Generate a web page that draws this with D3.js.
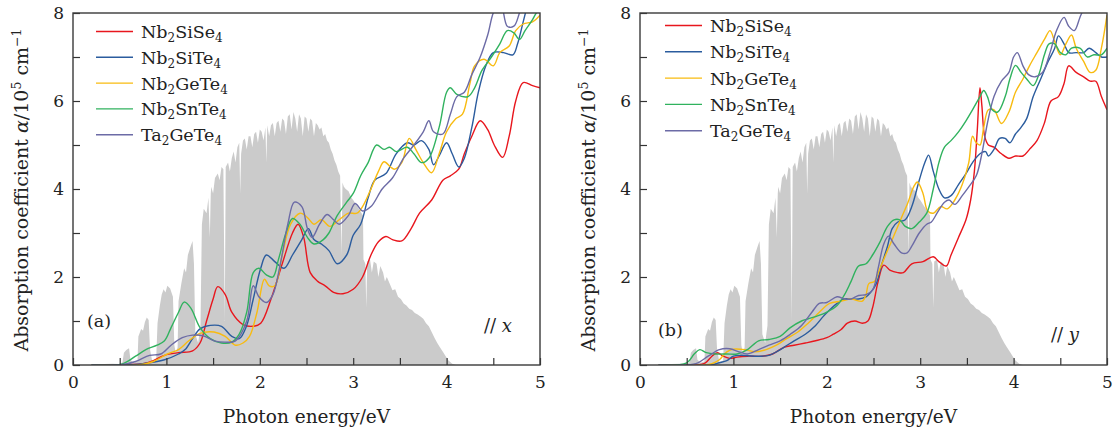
<!DOCTYPE html>
<html>
<head>
<meta charset="utf-8">
<script src="https://cdn.jsdelivr.net/npm/d3@7"></script>
<style>
  body { margin: 0; background: #fff; }
  svg { display: block; }
  text { font-family: "DejaVu Serif", serif; fill: #222; }
  .axis line { stroke: #333; stroke-width: 1.2; }
  .axis text { font-size: 17px; }
</style>
</head>
<body>
<svg width="1115" height="433"></svg>
<script>
// series names + colours (same order in both panels)
const names = [["Nb", "2", "SiSe", "4"], ["Nb", "2", "SiTe", "4"], ["Nb", "2", "GeTe", "4"], ["Nb", "2", "SnTe", "4"], ["Ta", "2", "GeTe", "4"]];
const colors = ["#e8161d", "#2b5c9e", "#f8bb10", "#30b25e", "#6c6ba6"];

const xTicks = [0, 0.5, 1, 1.5, 2, 2.5, 3, 3.5, 4, 4.5, 5];
const yTicks = [0, 1, 2, 3, 4, 5, 6, 7, 8];

// AM1.5 solar spectrum, arbitrary units (grey background)
const solar = [[0.28,0],[0.33,0.02],[0.42,0.03],[0.5,0.02],[0.53,0.06],[0.545,0.28],[0.57,0.34],[0.6,0.38],[0.615,0.12],[0.65,0.05],[0.69,0.08],[0.70,0.65],[0.73,0.82],[0.75,0.78],[0.77,0.98],[0.79,1.08],[0.81,1.02],[0.825,0.35],[0.85,0.06],[0.89,0.1],[0.905,0.95],[0.93,1.35],[0.95,1.6],[0.97,1.72],[0.99,1.65],[1.01,1.8],[1.04,1.74],[1.07,1.55],[1.085,0.45],[1.1,0.28],[1.12,0.4],[1.13,1.45],[1.16,1.85],[1.19,2.2],[1.21,2.1],[1.23,2.5],[1.26,2.7],[1.28,2.82],[1.295,2.3],[1.31,0.7],[1.34,0.5],[1.365,0.9],[1.38,3.2],[1.4,3.55],[1.43,3.45],[1.45,3.8],[1.465,2.9],[1.475,3.9],[1.48,4.05],[1.5,3.9],[1.52,4.25],[1.55,4.35],[1.57,4.2],[1.59,4.5],[1.61,4.45],[1.625,1.0],[1.635,4.5],[1.66,4.6],[1.68,4.4],[1.7,4.7],[1.72,4.85],[1.74,4.6],[1.76,4.95],[1.78,5.05],[1.79,3.9],[1.8,4.8],[1.82,5.1],[1.84,5.15],[1.86,4.9],[1.88,5.2],[1.9,5.2],[1.92,4.95],[1.94,5.25],[1.96,5.3],[1.98,5.05],[2.0,5.35],[2.02,5.3],[2.04,5.1],[2.06,5.4],[2.07,4.6],[2.08,5.45],[2.1,5.2],[2.12,5.45],[2.14,5.5],[2.16,5.2],[2.18,5.5],[2.2,5.55],[2.22,5.3],[2.24,5.6],[2.26,5.55],[2.28,5.25],[2.3,5.65],[2.32,5.7],[2.34,5.35],[2.36,5.75],[2.38,5.6],[2.4,5.3],[2.42,5.7],[2.44,5.6],[2.46,5.2],[2.48,5.65],[2.5,5.6],[2.52,5.3],[2.54,5.6],[2.56,5.55],[2.58,5.2],[2.6,5.5],[2.62,5.45],[2.64,5.35],[2.66,5.4],[2.68,5.2],[2.7,5.25],[2.72,5.1],[2.74,5.05],[2.76,4.9],[2.78,4.8],[2.8,4.65],[2.82,4.55],[2.84,4.4],[2.86,4.3],[2.875,2.5],[2.885,4.15],[2.9,4.05],[2.92,4.0],[2.95,3.95],[2.98,3.8],[3.0,3.75],[3.03,3.65],[3.06,3.55],[3.09,3.45],[3.105,3.4],[3.11,2.4],[3.13,2.3],[3.14,1.3],[3.15,2.35],[3.18,2.4],[3.2,2.1],[3.22,2.35],[3.25,2.3],[3.27,2.0],[3.29,2.25],[3.32,2.1],[3.34,1.9],[3.36,2.0],[3.39,1.85],[3.42,1.7],[3.45,1.72],[3.48,1.55],[3.51,1.5],[3.54,1.4],[3.57,1.35],[3.6,1.28],[3.63,1.25],[3.66,1.18],[3.69,1.15],[3.72,1.1],[3.75,1.05],[3.78,0.95],[3.81,0.88],[3.84,0.75],[3.87,0.62],[3.9,0.5],[3.93,0.4],[3.96,0.3],[3.99,0.2],[4.02,0.1],[4.06,0.03],[4.1,0]];

// (a) // x
const aSiSe4 = [[0.2,0],[0.5,0],[0.6,0.01],[0.75,0.03],[0.86,0.1],[0.98,0.22],[1.13,0.28],[1.28,0.32],[1.36,0.5],[1.43,1.0],[1.5,1.5],[1.55,1.78],[1.63,1.6],[1.7,1.2],[1.82,0.92],[1.93,0.88],[2.01,0.95],[2.12,1.5],[2.24,2.3],[2.35,3.0],[2.41,3.2],[2.47,2.9],[2.54,2.1],[2.62,1.9],[2.7,1.8],[2.79,1.65],[2.89,1.62],[3.0,1.72],[3.1,2.0],[3.19,2.5],[3.27,2.8],[3.35,2.92],[3.42,2.85],[3.52,2.82],[3.62,3.1],[3.71,3.45],[3.84,3.75],[3.96,4.2],[4.04,4.3],[4.13,4.45],[4.19,4.8],[4.27,5.2],[4.36,5.55],[4.44,5.35],[4.51,5.0],[4.6,4.72],[4.67,5.2],[4.74,6.0],[4.82,6.42],[4.92,6.35],[5.0,6.3]];
const aSiTe4 = [[0.2,0],[0.6,0],[0.82,0.05],[0.98,0.12],[1.13,0.25],[1.2,0.35],[1.28,0.6],[1.36,0.82],[1.47,0.9],[1.59,0.88],[1.7,0.65],[1.78,0.6],[1.86,0.9],[1.93,1.5],[2.01,2.2],[2.07,2.5],[2.16,2.35],[2.26,2.2],[2.35,2.5],[2.45,2.85],[2.52,3.1],[2.58,2.85],[2.66,2.75],[2.74,2.6],[2.83,2.3],[2.93,2.5],[3.0,2.95],[3.08,3.2],[3.16,3.8],[3.23,4.2],[3.35,4.35],[3.46,4.8],[3.58,5.05],[3.65,5.0],[3.73,5.1],[3.81,4.9],[3.86,4.55],[3.92,4.75],[4.0,5.05],[4.06,4.8],[4.13,4.5],[4.19,4.7],[4.27,5.4],[4.34,6.2],[4.42,6.8],[4.5,7.1],[4.61,7.1],[4.71,7.05],[4.76,7.3],[4.82,7.8],[4.88,8.3]];
const aGeTe4 = [[0.2,0],[0.7,0],[0.86,0.08],[1.01,0.25],[1.13,0.35],[1.24,0.55],[1.36,0.72],[1.51,0.75],[1.63,0.65],[1.74,0.45],[1.82,0.5],[1.89,0.65],[1.97,1.2],[2.05,1.95],[2.1,1.8],[2.16,1.8],[2.24,2.5],[2.33,3.2],[2.43,3.45],[2.51,3.35],[2.58,3.2],[2.66,3.3],[2.75,3.15],[2.85,3.3],[2.95,3.45],[3.04,3.45],[3.1,3.6],[3.19,4.0],[3.27,4.4],[3.33,4.62],[3.4,4.5],[3.44,4.45],[3.52,4.6],[3.6,5.15],[3.67,4.9],[3.75,4.6],[3.84,4.37],[3.92,4.8],[4.0,5.3],[4.1,5.6],[4.17,5.7],[4.25,6.4],[4.3,6.8],[4.4,6.95],[4.5,6.8],[4.57,7.1],[4.67,7.25],[4.74,7.6],[4.82,7.75],[4.92,7.8],[5.0,7.95]];
const aSnTe4 = [[0.2,0],[0.52,0.02],[0.67,0.2],[0.78,0.35],[0.9,0.45],[0.98,0.55],[1.05,0.85],[1.13,1.2],[1.19,1.43],[1.26,1.3],[1.36,0.85],[1.47,0.6],[1.59,0.5],[1.7,0.52],[1.78,0.7],[1.86,1.2],[1.93,2.1],[1.99,2.2],[2.07,2.05],[2.14,2.0],[2.2,2.4],[2.28,3.0],[2.35,3.33],[2.43,3.2],[2.51,2.9],[2.58,2.75],[2.68,2.85],[2.74,3.0],[2.83,3.4],[2.93,3.7],[3.0,3.9],[3.08,4.3],[3.16,4.6],[3.25,5.0],[3.33,4.9],[3.39,4.95],[3.46,4.85],[3.58,4.95],[3.65,4.8],[3.73,4.6],[3.81,4.7],[3.92,5.4],[4.0,6.2],[4.04,6.3],[4.11,6.15],[4.23,6.1],[4.3,6.3],[4.38,6.7],[4.48,7.0],[4.57,7.3],[4.65,7.6],[4.72,7.55],[4.78,7.4],[4.84,7.6],[4.92,7.85],[4.96,8.0],[5.0,8.1]];
const aTaGeTe4 = [[0.2,0],[0.5,0],[0.67,0.08],[0.82,0.22],[0.94,0.25],[1.05,0.45],[1.17,0.62],[1.28,0.68],[1.4,0.66],[1.51,0.55],[1.63,0.52],[1.74,0.55],[1.86,1.0],[1.93,1.8],[1.99,1.55],[2.07,1.42],[2.14,1.6],[2.22,2.3],[2.3,3.2],[2.37,3.7],[2.45,3.6],[2.51,3.1],[2.56,2.9],[2.64,3.2],[2.72,3.42],[2.79,3.3],[2.85,3.2],[2.95,3.4],[3.02,3.67],[3.1,3.5],[3.19,3.6],[3.31,4.0],[3.42,4.25],[3.54,4.7],[3.65,5.0],[3.75,5.3],[3.81,5.55],[3.86,5.3],[3.96,5.25],[4.04,5.7],[4.11,6.1],[4.19,6.2],[4.27,6.6],[4.36,7.0],[4.44,7.5],[4.51,8.05],[4.58,8.2],[4.65,7.7],[4.72,7.7],[4.78,8.0],[4.84,8.4]];

// (b) // y
const bSiSe4 = [[0.2,0],[0.6,0],[0.7,0.05],[0.77,0.2],[0.83,0.28],[0.89,0.2],[0.96,0.15],[1.04,0.18],[1.15,0.2],[1.31,0.2],[1.42,0.25],[1.54,0.4],[1.65,0.45],[1.77,0.5],[1.88,0.55],[2.0,0.62],[2.07,0.7],[2.15,0.8],[2.22,0.95],[2.3,1.0],[2.38,0.95],[2.44,1.0],[2.49,1.3],[2.55,1.9],[2.61,2.27],[2.68,2.15],[2.76,2.1],[2.82,2.1],[2.91,2.3],[3.03,2.35],[3.14,2.46],[3.2,2.35],[3.28,2.25],[3.33,2.5],[3.41,2.9],[3.49,3.3],[3.54,3.75],[3.58,4.4],[3.61,5.3],[3.64,6.3],[3.66,5.9],[3.69,5.2],[3.73,5.0],[3.79,4.95],[3.87,4.8],[3.95,4.7],[4.02,4.75],[4.1,4.75],[4.17,4.9],[4.25,5.1],[4.33,5.5],[4.4,6.0],[4.48,6.1],[4.54,6.4],[4.59,6.8],[4.67,6.65],[4.75,6.55],[4.82,6.45],[4.88,6.45],[4.94,6.1],[5.0,5.8]];
const bSiTe4 = [[0.2,0],[0.75,0],[0.85,0.05],[0.93,0.1],[1.0,0.2],[1.08,0.22],[1.23,0.2],[1.38,0.22],[1.46,0.3],[1.54,0.4],[1.65,0.55],[1.77,0.7],[1.88,0.9],[1.96,1.1],[2.03,1.25],[2.11,1.4],[2.19,1.5],[2.26,1.5],[2.34,1.5],[2.42,1.55],[2.47,1.65],[2.53,1.85],[2.59,2.3],[2.65,2.7],[2.7,3.1],[2.76,3.25],[2.84,3.3],[2.91,3.6],[2.99,4.2],[3.05,4.6],[3.09,4.77],[3.14,4.4],[3.2,4.0],[3.26,3.8],[3.33,3.85],[3.41,4.1],[3.49,4.35],[3.56,4.6],[3.64,4.8],[3.7,4.85],[3.73,4.75],[3.79,4.9],[3.85,5.15],[3.91,5.15],[3.96,5.05],[4.02,5.25],[4.08,5.4],[4.14,5.6],[4.21,6.1],[4.29,6.5],[4.37,6.9],[4.44,7.2],[4.48,7.48],[4.54,7.3],[4.59,7.1],[4.67,7.1],[4.75,7.1],[4.81,7.2],[4.88,7.1],[4.94,7.0],[5.0,7.0]];
const bGeTe4 = [[0.2,0],[0.7,0],[0.77,0.03],[0.85,0.12],[0.93,0.3],[1.0,0.36],[1.12,0.35],[1.23,0.3],[1.35,0.35],[1.46,0.45],[1.57,0.6],[1.69,0.75],[1.8,0.95],[1.92,1.2],[2.03,1.4],[2.15,1.45],[2.26,1.5],[2.38,1.45],[2.42,1.6],[2.45,1.85],[2.51,1.9],[2.57,2.2],[2.65,2.6],[2.72,2.95],[2.8,3.35],[2.87,3.7],[2.93,4.05],[2.97,4.16],[3.03,3.9],[3.08,3.5],[3.14,3.45],[3.22,3.6],[3.29,3.55],[3.37,3.75],[3.45,4.1],[3.52,4.6],[3.56,5.2],[3.6,5.05],[3.64,5.0],[3.68,5.4],[3.73,5.8],[3.79,5.8],[3.87,5.49],[3.95,5.75],[4.02,6.2],[4.1,6.5],[4.17,6.8],[4.25,7.1],[4.33,7.4],[4.39,7.6],[4.44,7.35],[4.5,7.05],[4.56,7.3],[4.62,7.5],[4.67,7.2],[4.75,6.9],[4.82,6.65],[4.88,6.7],[4.94,7.2],[5.0,7.95]];
const bSnTe4 = [[0.2,0],[0.5,0.05],[0.58,0.25],[0.64,0.35],[0.71,0.28],[0.81,0.25],[0.93,0.25],[1.04,0.25],[1.15,0.35],[1.27,0.55],[1.38,0.58],[1.5,0.65],[1.61,0.85],[1.73,1.0],[1.8,1.05],[1.88,1.1],[2.0,1.2],[2.11,1.35],[2.19,1.6],[2.26,1.9],[2.34,2.25],[2.42,2.3],[2.49,2.5],[2.57,2.8],[2.65,3.15],[2.72,3.3],[2.78,3.3],[2.84,3.15],[2.91,3.1],[2.99,3.25],[3.07,3.45],[3.14,4.0],[3.2,4.6],[3.26,4.95],[3.33,5.1],[3.41,5.3],[3.49,5.55],[3.56,5.8],[3.64,6.1],[3.68,6.24],[3.72,6.1],[3.77,5.8],[3.83,5.75],[3.91,6.1],[3.96,6.5],[4.02,6.81],[4.08,6.65],[4.14,6.5],[4.21,6.35],[4.27,6.6],[4.33,7.05],[4.38,7.3],[4.44,7.3],[4.5,7.1],[4.56,7.05],[4.62,7.2],[4.71,7.2],[4.79,7.0],[4.86,7.05],[4.94,7.05],[5.0,7.2]];
const bTaGeTe4 = [[0.2,0],[0.5,0],[0.62,0.05],[0.73,0.2],[0.85,0.35],[0.96,0.37],[1.06,0.3],[1.15,0.25],[1.27,0.35],[1.38,0.45],[1.5,0.55],[1.61,0.7],[1.73,0.9],[1.84,1.2],[1.92,1.4],[2.0,1.42],[2.11,1.55],[2.19,1.5],[2.26,1.5],[2.34,1.58],[2.42,1.6],[2.49,1.7],[2.55,2.2],[2.61,2.75],[2.66,2.93],[2.72,2.75],[2.8,2.55],[2.86,2.55],[2.91,2.7],[2.99,3.0],[3.07,3.2],[3.12,3.25],[3.18,3.45],[3.26,3.7],[3.31,3.75],[3.37,3.65],[3.45,3.85],[3.52,4.05],[3.6,4.3],[3.66,4.8],[3.72,5.5],[3.79,6.1],[3.87,6.45],[3.95,6.65],[4.0,7.0],[4.04,7.1],[4.1,6.8],[4.16,6.6],[4.23,6.55],[4.31,6.65],[4.39,7.1],[4.46,7.6],[4.54,7.9],[4.59,7.7],[4.65,7.6],[4.71,7.9],[4.75,8.1],[4.8,8.4]];

let svg = d3.select('svg');
let plotTop = 13, plotBottom = 365;

let panels = [
  {id: 'a', left: 73, right: 540, series: [aSiSe4, aSiTe4, aGeTe4, aSnTe4, aTaGeTe4],
   tag: '(a)', dir: 'x', legX: 96, legY: 31.5, legStep: 25.8, tagX: 87, tagY: 327, dirX: 484},
  {id: 'b', left: 640, right: 1107, series: [bSiSe4, bSiTe4, bGeTe4, bSnTe4, bTaGeTe4],
   tag: '(b)', dir: 'y', legX: 665, legY: 25.5, legStep: 26.3, tagX: 658, tagY: 336, dirX: 1051}
];

panels.forEach(p => {
  let x = d3.scaleLinear().domain([0, 5]).range([p.left, p.right]);
  let y = d3.scaleLinear().domain([0, 8]).range([plotBottom, plotTop]);

  svg.append('clipPath').attr('id', 'clip-' + p.id)
    .append('rect').attr('x', p.left).attr('y', plotTop)
    .attr('width', p.right - p.left).attr('height', plotBottom - plotTop);

  let g = svg.append('g').attr('clip-path', `url(#clip-${p.id})`);

  // grey solar spectrum
  let area = d3.area().x(d => x(d[0])).y0(y(0)).y1(d => y(d[1]));
  g.append('path').datum(solar)
    .attr('d', area).attr('fill', '#cbcbcb');

  let line = d3.line()
    .x(d => x(d[0]))
    .y(d => y(d[1]))
    .curve(d3.curveCatmullRom.alpha(0.5));

  p.series.forEach((s, i) => {
    g.append('path').datum(s)
      .attr('d', line)
      .attr('fill', 'none')
      .attr('stroke', colors[i])
      .attr('stroke-width', 1.4);
  });

  // axes, ticks pointing inward
  svg.append('g').attr('class', 'axis')
    .attr('transform', `translate(0,${plotBottom})`)
    .call(d3.axisBottom(x).tickValues(xTicks).tickSize(-7).tickPadding(11)
      .tickFormat(d => Number.isInteger(d) ? d : ''))
    .call(a => a.select('.domain').remove());

  svg.append('g').attr('class', 'axis')
    .attr('transform', `translate(${p.left},0)`)
    .call(d3.axisLeft(y).tickValues(yTicks).tickSize(-7).tickPadding(9)
      .tickFormat(d => d % 2 === 0 ? d : ''))
    .call(a => a.select('.domain').remove());

  svg.append('rect')
    .attr('x', p.left).attr('y', plotTop)
    .attr('width', p.right - p.left).attr('height', plotBottom - plotTop)
    .attr('fill', 'none').attr('stroke', '#3a3a3a').attr('stroke-width', 1.4);

  // legend
  names.forEach((n, i) => {
    let ly = p.legY + i * p.legStep;
    svg.append('line')
      .attr('x1', p.legX).attr('x2', p.legX + 37)
      .attr('y1', ly).attr('y2', ly)
      .attr('stroke', colors[i]).attr('stroke-width', 1.4);
    let t = svg.append('text')
      .attr('x', p.legX + 45).attr('y', ly + 6.5)
      .style('font-size', '17.5px');
    t.append('tspan').text(n[0]);
    t.append('tspan').text(n[1]).style('font-size', '12px').attr('dy', 4);
    t.append('tspan').text(n[2]).attr('dy', -4);
    t.append('tspan').text(n[3]).style('font-size', '12px').attr('dy', 4);
  });

  svg.append('text').attr('x', p.tagX).attr('y', p.tagY)
    .style('font-size', '17.5px').text(p.tag);

  let d = svg.append('text').attr('x', p.dirX).attr('y', p.tagY + 5)
    .style('font-size', '18px');
  d.append('tspan').text('//');
  d.append('tspan').text(' ' + p.dir).style('font-style', 'italic');

  // axis titles
  svg.append('text')
    .attr('x', (p.left + p.right) / 2).attr('y', 423)
    .attr('text-anchor', 'middle')
    .style('font-size', '18.5px')
    .text('Photon energy/eV');

  let yt = svg.append('text')
    .attr('transform', `translate(${p.left - 45},${(plotTop + plotBottom) / 2 + 1}) rotate(-90)`)
    .attr('text-anchor', 'middle')
    .style('font-size', '19px');
  yt.append('tspan').text('Absorption coefficient ');
  yt.append('tspan').text('α').style('font-style', 'italic');
  yt.append('tspan').text('/10');
  yt.append('tspan').text('5').style('font-size', '12.5px').attr('dy', -7);
  yt.append('tspan').text(' cm').attr('dy', 7);
  yt.append('tspan').text('−1').style('font-size', '12.5px').attr('dy', -7);
});
</script>
</body>
</html>
